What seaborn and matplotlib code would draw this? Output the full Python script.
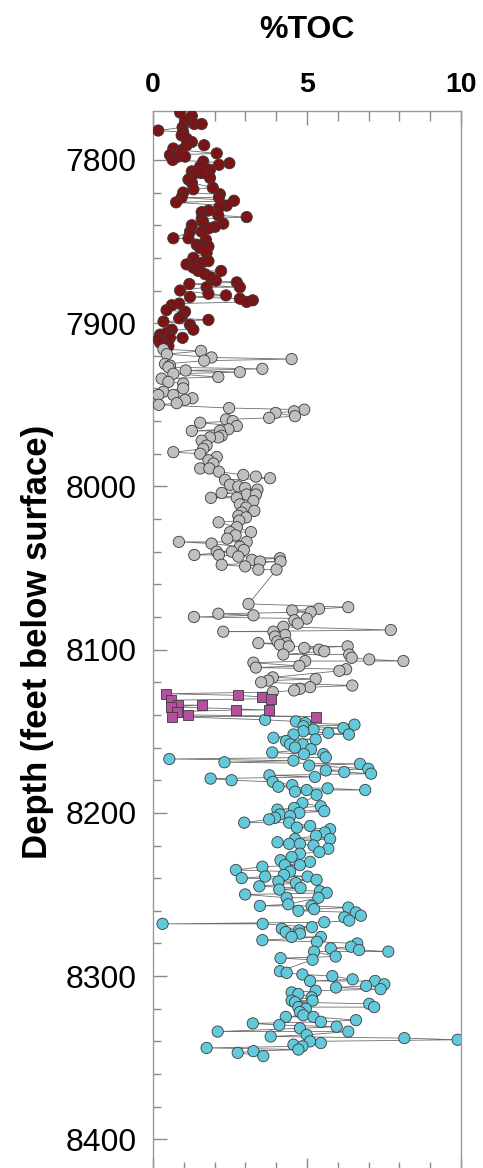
import numpy as np
import pandas as pd
import matplotlib
matplotlib.use("Agg")
import matplotlib.pyplot as plt
from matplotlib.ticker import MultipleLocator
import seaborn as sns

# ---------------- data ----------------
red_depth = [7771, 7773, 7776, 7778, 7778, 7780, 7782, 7783, 7785, 7787, 7789, 7791, 7791, 7793, 7794,
             7796, 7797, 7798, 7798, 7800, 7801, 7802, 7803, 7804, 7806, 7807, 7808, 7808, 7811, 7812,
             7814, 7817, 7818, 7820, 7821, 7823, 7823, 7825, 7826, 7828, 7829, 7831, 7832, 7834, 7835,
             7836, 7838, 7839, 7840, 7841, 7842, 7844, 7844, 7848, 7848, 7849, 7852, 7853, 7854, 7857,
             7860, 7862, 7863, 7864, 7866, 7868, 7868, 7870, 7872, 7874, 7875, 7876, 7878, 7878, 7880,
             7882, 7883, 7884, 7885, 7886, 7887, 7888, 7889, 7892, 7893, 7896, 7897, 7898, 7899, 7901,
             7904, 7904, 7906, 7907, 7909, 7909, 7910, 7912, 7914]
red_toc = [0.88, 1.26, 1.04, 1.34, 1.58, 0.96, 0.17, 0.98, 0.93, 1.09, 1.26, 1.66, 1.09, 0.66, 0.93,
           2.07, 0.55, 0.81, 1.04, 0.64, 1.63, 2.48, 2.14, 1.53, 1.85, 1.26, 1.36, 1.58, 1.85, 1.15,
           1.26, 1.94, 1.31, 0.98, 2.17, 2.14, 0.93, 2.63, 0.75, 2.39, 2.15, 1.80, 1.58, 2.12, 3.04,
           1.58, 1.63, 2.28, 1.26, 2.01, 1.80, 1.58, 1.20, 0.66, 1.15, 1.72, 1.42, 1.80, 1.53, 1.74,
           1.31, 1.80, 1.58, 1.09, 1.31, 1.47, 2.21, 1.69, 1.88, 2.04, 2.72, 1.18, 2.82, 1.74, 0.88,
           1.80, 2.37, 1.20, 2.82, 3.24, 3.04, 0.85, 0.61, 0.44, 1.04, 0.93, 0.85, 1.80, 0.34, 1.20,
           1.31, 0.61, 0.44, 0.23, 0.96, 0.55, 0.17, 0.23, 0.50]

grey_depth = [7916, 7917, 7919, 7921, 7922, 7923, 7925, 7926, 7927, 7928, 7929, 7930, 7931, 7933, 7934,
              7936, 7937, 7940, 7942, 7944, 7944, 7946, 7947, 7949, 7950, 7952, 7953, 7954, 7955, 7957,
              7958, 7959, 7960, 7961, 7963, 7965, 7966, 7966, 7969, 7970, 7970, 7972, 7975, 7977, 7979,
              7980, 7982, 7984, 7986, 7989, 7989, 7991, 7993, 7994, 7995, 7996, 7999, 8000, 8001, 8002,
              8004, 8005, 8005, 8007, 8007, 8009, 8011, 8013, 8015, 8016, 8018, 8019, 8021, 8022, 8025,
              8028, 8028, 8030, 8032, 8034, 8034, 8035, 8037, 8039, 8040, 8040, 8042, 8042, 8043, 8044,
              8045, 8046, 8046, 8048, 8049, 8051, 8051,
              8072, 8074, 8075, 8076, 8077, 8078, 8079, 8080, 8081, 8082, 8084, 8086, 8088, 8089, 8089,
              8091, 8092, 8095, 8096, 8096, 8097, 8098, 8098, 8099, 8100, 8101, 8103, 8103, 8105, 8106,
              8107, 8107, 8108, 8110, 8111, 8112, 8113, 8117, 8118, 8119, 8120, 8122, 8123, 8124, 8125,
              8126]
grey_toc = [0.34, 1.56, 0.45, 1.90, 4.50, 1.66, 0.39, 0.55, 0.50, 3.55, 1.06, 2.82, 0.66, 2.12, 0.28,
            0.50, 0.98, 0.98, 0.34, 0.17, 0.66, 1.28, 1.04, 0.77, 0.19, 2.47, 4.91, 4.58, 3.98, 4.61,
            3.77, 2.37, 2.59, 1.53, 2.72, 2.45, 1.26, 2.17, 2.23, 2.12, 1.85, 1.58, 1.74, 1.63, 0.66,
            1.53, 2.07, 1.80, 1.96, 1.53, 1.83, 2.14, 2.93, 3.34, 3.80, 2.34, 2.50, 2.77, 2.99, 3.39,
            2.23, 3.04, 3.34, 1.88, 2.72, 3.26, 2.82, 3.02, 3.29, 2.88, 2.77, 3.02, 2.80, 2.13, 2.72,
            3.18, 2.50, 2.68, 2.41, 3.04, 0.84, 1.90, 2.82, 2.95, 2.07, 2.56, 1.34, 2.14, 2.77, 4.12,
            3.21, 3.47, 4.14, 2.23, 2.99, 3.42, 4.01,
            3.10, 6.34, 5.39, 4.52, 5.12, 2.12, 3.26, 1.33, 4.99, 4.59, 4.70, 4.23, 7.72, 2.28, 3.91,
            4.29, 3.96, 4.04, 4.34, 3.42, 4.12, 4.41, 6.32, 4.91, 5.39, 5.56, 4.23, 6.37, 6.45, 7.02,
            8.13, 4.94, 3.26, 4.75, 3.34, 6.27, 6.05, 3.89, 5.28, 3.74, 3.51, 6.47, 5.10, 4.77, 4.58,
            3.89]

mag_depth = [8127, 8128, 8129, 8130, 8131, 8134, 8134, 8135, 8137, 8137, 8138, 8140, 8141, 8141]
mag_toc = [0.42, 2.75, 3.53, 3.82, 0.57, 0.82, 1.58, 0.57, 3.78, 2.69, 0.77, 1.13, 5.29, 0.61]

cyan_depth = [8143, 8144, 8145, 8146, 8147, 8148, 8149, 8150, 8151, 8152, 8152, 8154, 8155, 8156, 8158,
              8158, 8160, 8161, 8163, 8164, 8164, 8166, 8167, 8168, 8169, 8170, 8171, 8173, 8174, 8175,
              8176, 8177, 8178, 8179, 8180, 8181, 8183, 8184, 8185, 8186, 8186, 8187, 8189, 8194, 8196,
              8197, 8198, 8199, 8200, 8201, 8202, 8203, 8204, 8206, 8206, 8208, 8209, 8210, 8212, 8214,
              8216, 8216, 8218, 8219, 8219, 8220, 8222, 8224, 8225, 8227, 8229, 8230, 8232, 8232, 8233,
              8235, 8236, 8238, 8239, 8239, 8240, 8241, 8242, 8243, 8245, 8246, 8247, 8248, 8249, 8250,
              8252, 8252, 8256, 8257, 8257, 8258, 8259, 8260, 8261, 8263, 8264, 8266, 8267, 8268, 8268,
              8270, 8271, 8272, 8273, 8274, 8276, 8276, 8278, 8279, 8280, 8282, 8283, 8284, 8285, 8285,
              8288, 8289, 8290, 8297, 8298, 8299, 8300, 8302, 8303, 8303, 8305, 8306, 8307, 8308, 8309,
              8310, 8311, 8313, 8315, 8315, 8316, 8317, 8319, 8319, 8320, 8322, 8324, 8325, 8325, 8327,
              8328, 8329, 8330, 8331, 8332, 8334, 8334, 8336, 8337, 8338, 8339, 8340, 8341, 8342, 8343,
              8344, 8345, 8346, 8347, 8349]
cyan_toc = [3.64, 4.64, 4.94, 6.54, 4.88, 6.18, 5.21, 4.88, 5.69, 6.36, 4.56, 3.91, 5.28, 4.32, 4.45,
            4.86, 4.61, 5.13, 3.87, 4.90, 5.53, 5.61, 0.53, 4.56, 2.32, 6.72, 5.07, 6.99, 5.61, 6.21,
            7.08, 3.78, 5.26, 1.87, 2.55, 3.89, 4.52, 4.07, 5.67, 6.89, 4.99, 4.61, 5.31, 4.85, 5.45,
            4.58, 4.04, 5.56, 4.75, 4.12, 4.45, 3.96, 3.77, 2.96, 4.42, 5.10, 4.67, 5.75, 5.58, 5.29,
            4.61, 5.75, 4.04, 4.42, 4.77, 5.21, 5.69, 5.40, 4.77, 4.50, 4.14, 5.10, 4.28, 4.77, 3.55,
            2.69, 4.45, 4.25, 5.02, 3.64, 2.88, 5.31, 4.07, 4.64, 3.45, 4.79, 4.10, 5.42, 5.64, 2.99,
            4.34, 5.37, 4.39, 3.47, 5.15, 6.34, 5.23, 4.72, 6.59, 6.75, 6.21, 6.37, 5.56, 0.31, 3.56,
            5.16, 4.18, 4.75, 4.31, 4.77, 4.50, 5.45, 3.55, 5.32, 6.63, 6.43, 5.77, 6.69, 7.64, 5.23,
            5.93, 4.14, 5.18, 4.12, 4.34, 4.85, 5.82, 6.48, 5.10, 7.21, 7.51, 6.92, 5.94, 7.39, 5.28,
            4.50, 4.72, 5.15, 4.50, 5.18, 4.61, 7.02, 7.18, 4.72, 4.96, 4.77, 4.88, 4.31, 5.21, 6.59,
            5.45, 3.24, 4.10, 5.96, 4.77, 2.10, 6.34, 4.99, 3.82, 8.16, 9.89, 5.10, 5.45, 4.56, 4.85,
            1.74, 4.72, 3.26, 2.75, 3.58]

units = ["upper", "middle", "bed", "lower"]
unit_colors = {"upper": "#7d1315", "middle": "#c0c0c0", "bed": "#b5509f", "lower": "#62c9db"}
xticks = [0, 5, 10]
yticks = [7800, 7900, 8000, 8100, 8200, 8300, 8400]

# ---------------- frame ----------------
frames = []
for u, d, t in zip(units, [red_depth, grey_depth, mag_depth, cyan_depth],
                   [red_toc, grey_toc, mag_toc, cyan_toc]):
    frames.append(pd.DataFrame({"depth": d, "toc": t, "unit": u}))
df = pd.concat(frames, ignore_index=True)
df = df.sort_values("depth", kind="stable").reset_index(drop=True)

sns.set_style("white")
plt.rcParams["font.family"] = ["Liberation Sans", "DejaVu Sans"]
plt.rcParams["text.color"] = "black"
plt.rcParams["axes.labelcolor"] = "black"
plt.rcParams["xtick.labelcolor"] = "black"
plt.rcParams["ytick.labelcolor"] = "black"

fig = plt.figure(figsize=(4.83, 11.68), dpi=100)
ax = fig.add_axes([0.3168, -0.0034, 0.6377, 0.9084])

sns.lineplot(data=df, x="toc", y="depth", orient="y", sort=False, estimator=None,
             color="#6e6e6e", linewidth=0.6, ax=ax, zorder=1)

circ = df[df["unit"] != "bed"]
sns.scatterplot(data=circ, x="toc", y="depth", hue="unit", palette=unit_colors,
                s=66, marker="o", edgecolor="#3a3a3a", linewidth=0.6,
                legend=False, ax=ax, zorder=3)
sq = df[df["unit"] == "bed"]
sns.scatterplot(data=sq, x="toc", y="depth", color=unit_colors["bed"],
                s=52, marker="s", edgecolor="#3a3a3a", linewidth=0.6,
                legend=False, ax=ax, zorder=4)

ax.set_xlim(0, 10)
ax.set_ylim(8420, 7770)
ax.set_xticks(xticks)
ax.xaxis.set_minor_locator(MultipleLocator(1))
ax.set_yticks(yticks)
ax.yaxis.set_minor_locator(MultipleLocator(20))

ax.xaxis.tick_top()
ax.xaxis.set_label_position("top")
ax.tick_params(axis="x", which="both", direction="in", top=True, bottom=True,
               labeltop=True, labelbottom=False, color="#8a8a8a", width=1.0)
ax.tick_params(axis="x", which="major", length=10, pad=9, labelsize=20.5)
ax.tick_params(axis="x", which="minor", length=7)
ax.tick_params(axis="y", which="both", direction="in", left=True, right=False,
               color="#8a8a8a", width=1.0)
ax.tick_params(axis="y", which="major", length=10, pad=12, labelsize=23)
ax.tick_params(axis="y", which="minor", length=6)
for lab in ax.get_xticklabels():
    lab.set_fontweight("bold")

for sp in ax.spines.values():
    sp.set_color("#9a9a9a")
    sp.set_linewidth(1.0)
    sp.set_visible(True)

ax.set_xlabel("%TOC", fontsize=23, fontweight="bold", labelpad=25)
ax.set_ylabel("Depth (feet below surface)", fontsize=25, fontweight="bold", labelpad=8)

fig.savefig("out.png", dpi=100)
